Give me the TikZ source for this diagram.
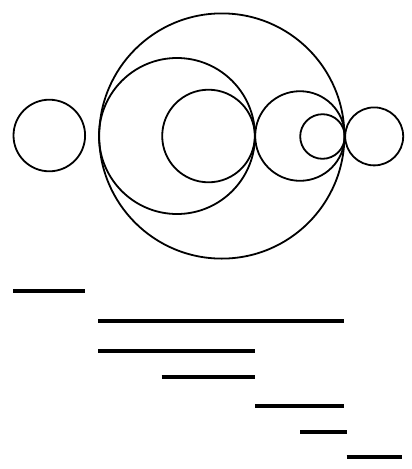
\documentclass[tikz,border=0pt]{standalone}
\begin{document}
\begin{tikzpicture}[x=1pt,y=-1pt,
  circ/.style={draw=black,line width=1.8pt},
  seg/.style={draw=black,line width=3.8pt}]
\useasboundingbox (0,0) rectangle (412,469);
% circles
\draw[circ] (49.3,135.5) circle (35.8);
\draw[circ] (221.8,136) circle (122.6);
\draw[circ] (177,136) circle (78);
\draw[circ] (208.5,136) circle (46.3);
\draw[circ] (300,136) circle (44.8);
\draw[circ] (322.5,136.5) circle (22.3);
\draw[circ] (374.2,136.4) circle (29);
% segments
\draw[seg] (13.3,290.7) -- (85,290.7);
\draw[seg] (98.3,320.7) -- (344.3,320.7);
\draw[seg] (98.3,350.7) -- (255,350.7);
\draw[seg] (161.7,376.7) -- (255,376.7);
\draw[seg] (255,406) -- (344.3,406);
\draw[seg] (300,431.7) -- (346.7,431.7);
\draw[seg] (346.7,457.3) -- (401.7,457.3);
\end{tikzpicture}
\end{document}
